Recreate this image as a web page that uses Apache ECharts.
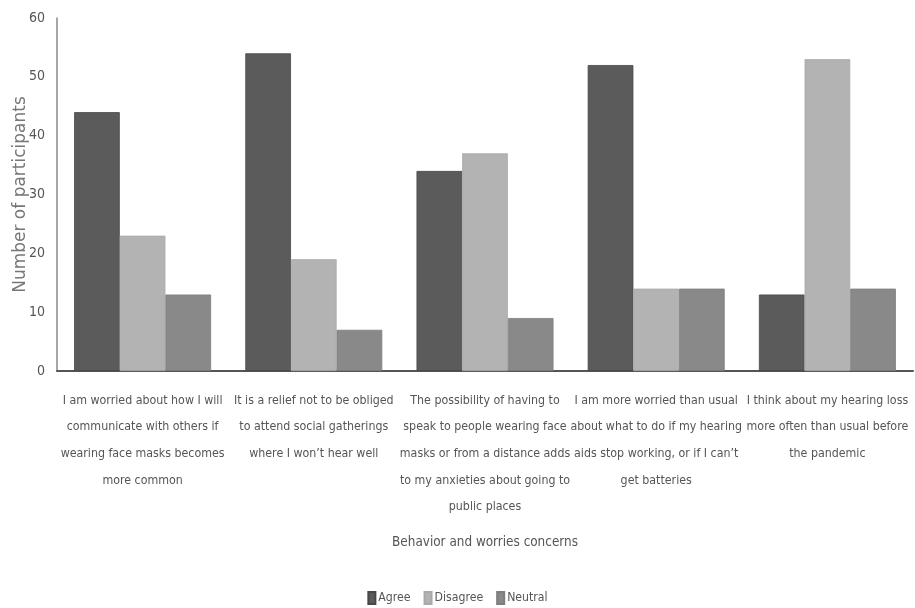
<!DOCTYPE html>
<html>
<head>
<meta charset="utf-8">
<script src="https://cdn.jsdelivr.net/npm/echarts@6/dist/echarts.min.js"></script>
<style>
html,body{margin:0;padding:0;background:#fff;}
#main{width:915px;height:608px;}
</style>
</head>
<body>
<div id="main"></div>
<script>
const categories = [
  "I am worried about how I will\ncommunicate with others if\nwearing face masks becomes\nmore common",
  "It is a relief not to be obliged\nto attend social gatherings\nwhere I won\u2019t hear well",
  "The possibility of having to\nspeak to people wearing face\nmasks or from a distance adds\nto my anxieties about going to\npublic places",
  "I am more worried than usual\nabout what to do if my hearing\naids stop working, or if I can\u2019t\nget batteries",
  "I think about my hearing loss\nmore often than usual before\nthe pandemic"
];
const seriesNames = ["Agree", "Disagree", "Neutral"];
const agree = [44, 54, 34, 52, 13];
const disagree = [23, 19, 37, 14, 53];
const neutral = [13, 7, 9, 14, 14];
const yTicks = [0, 10, 20, 30, 40, 50, 60];

// --- font selection: pick an installed narrow face and size it to the reference text widths
const ctx = document.createElement('canvas').getContext('2d');
function measure(size, fam, txt) { ctx.font = size + 'px ' + fam; return ctx.measureText(txt).width; }
function available(name) {
  const t = 'abcdefghijklmnopqrstuvwxyz 0123456789';
  return measure(20, '"' + name + '", monospace', t) !== measure(20, 'monospace', t) ||
         measure(20, '"' + name + '", serif', t) !== measure(20, 'serif', t);
}
const candidates = ['Liberation Sans Narrow', 'Arial Narrow', 'DejaVu Sans Condensed', 'Liberation Sans'];
let famName = 'sans-serif';
for (const c of candidates) { if (available(c)) { famName = '"' + c + '"'; break; } }
const narrow = famName + ', sans-serif';
function fit(samples, targetTotal) {
  let w = 0;
  samples.forEach(function (s) { w += measure(20, narrow, s); });
  return Math.round(20 * targetTotal / w * 10) / 10;
}
const labelSize = fit(['I am worried about how I will', 'speak to people wearing face', 'more common'], 404);
const tickSize = Math.min(18, fit(['60'], 16));
const titleSize = fit(['Behavior and worries concerns'], 186);
const legendSize = fit(['Agree', 'Neutral'], 73);

const colors = ['#5b5b5b', '#b3b3b3', '#898989'];
const borders = ['#474747', '#a9a9a9', '#7d7d7d'];
const values = [agree, disagree, neutral];

const chart = echarts.init(document.getElementById('main'), null, {renderer: 'canvas'});
chart.setOption({
  animation: false,
  backgroundColor: '#ffffff',
  color: colors,
  grid: {left: 57, right: 2, top: 18, bottom: 237, containLabel: false, outerBoundsMode: 'none'},
  legend: {
    top: 586,
    left: 'center',
    itemWidth: 7,
    itemHeight: 12,
    itemGap: 13,
    icon: 'rect',
    textStyle: {fontFamily: narrow, fontSize: legendSize, color: '#555', padding: [0, 0, 0, -2]},
    data: seriesNames
  },
  xAxis: {
    type: 'category',
    data: categories,
    name: 'Behavior and worries concerns',
    nameLocation: 'middle',
    nameGap: 165,
    nameTextStyle: {fontFamily: narrow, fontSize: titleSize, color: '#555'},
    axisLine: {show: true, lineStyle: {color: '#555', width: 2}},
    axisTick: {show: false},
    axisLabel: {
      interval: 0,
      fontFamily: narrow,
      fontSize: labelSize,
      lineHeight: 26.7,
      color: '#555',
      margin: 16
    }
  },
  yAxis: {
    type: 'value',
    min: 0,
    max: 60,
    interval: 10,
    name: 'Number of participants',
    nameLocation: 'middle',
    nameGap: 28,
    nameMoveOverlap: false,
    nameTextStyle: {fontFamily: '"DejaVu Sans", Verdana, sans-serif', fontSize: 17, color: '#777'},
    axisLine: {show: true, lineStyle: {color: '#888', width: 1.5}},
    axisTick: {show: false},
    splitLine: {show: false},
    axisLabel: {
      fontFamily: narrow,
      fontSize: tickSize,
      color: '#555',
      margin: 12,
      formatter: function (v) { return yTicks.indexOf(v) >= 0 ? String(v) : ''; }
    }
  },
  series: seriesNames.map(function (n, i) {
    return {
      name: n,
      type: 'bar',
      data: values[i],
      barGap: '0%',
      barCategoryGap: '20%',
      itemStyle: {color: colors[i], borderColor: borders[i], borderWidth: 0.8}
    };
  })
});
</script>
</body>
</html>
